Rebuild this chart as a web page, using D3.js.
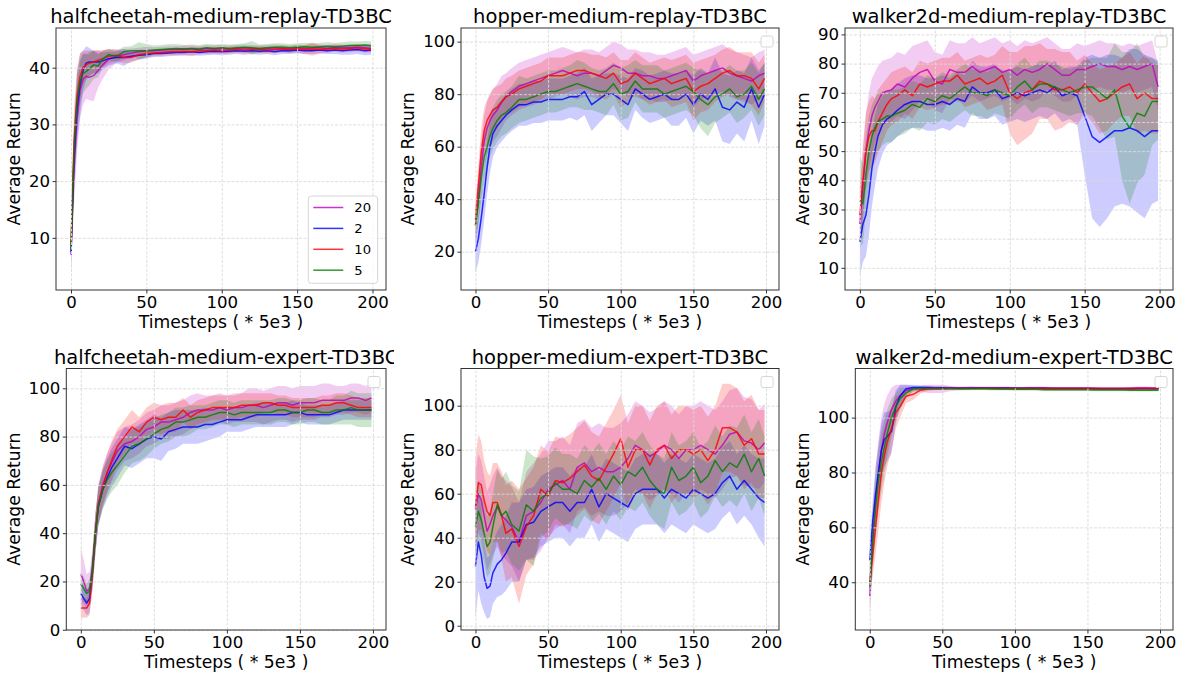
<!DOCTYPE html>
<html>
<head>
<meta charset="utf-8">
<script src="https://cdn.jsdelivr.net/npm/d3@7"></script>
<style>
  body { margin: 0; background: #fff; }
  svg { display: block; font-family: "DejaVu Sans", sans-serif; }
</style>
</head>
<body>
<div id="area"></div>
<script>
// x positions (timesteps, * 5e3) shared by every series
var steps = [0, 2, 4, 6, 8, 10, 12, 15, 18, 21,
  25, 30, 35, 40, 45, 50, 55, 60, 65, 70,
  75, 80, 85, 90, 95, 100, 105, 110, 115, 120,
  125, 130, 135, 140, 145, 150, 155, 160, 165, 170,
  175, 180, 185, 190, 195, 199];

var seriesNames = ['20', '2', '10', '5'];
var seriesColors = ['#bf00bf', '#0000ff', '#ff0000', '#008000'];
var xTicks = [0, 50, 100, 150, 200];

// halfcheetah-medium-replay
var hcr20 = [7, 22, 31, 36, 38, 38.5, 38.3, 38.6, 39.5, 40.5,
  41.5, 42, 42.3, 42.6, 42.8, 43, 43, 43.1, 43.2, 43.2,
  43.3, 43.3, 43.2, 43.4, 43.3, 43.4, 43.3, 43.4, 43.5, 43.4,
  43.3, 43.4, 43.5, 43.4, 43.3, 43.5, 43.4, 43.5, 43.5, 43.4,
  43.6, 43.5, 43.5, 43.6, 43.5, 43.4];
var hcr20Std = [3, 6, 6, 5, 4.5, 4, 4, 4.5, 3, 2.5,
  1.8, 1.2, 1, 0.8, 0.7, 0.7, 0.6, 0.6, 0.6, 0.6,
  0.6, 0.6, 0.6, 0.6, 0.6, 0.6, 0.6, 0.6, 0.6, 0.6,
  0.6, 0.6, 0.6, 0.6, 0.6, 0.6, 0.6, 0.6, 0.6, 0.6,
  0.6, 0.6, 0.6, 0.6, 0.6, 0.6];
var hcr2 = [7.5, 24, 33, 37, 39.5, 40.8, 41, 41, 41, 41.2,
  41.6, 41.8, 41.8, 42, 42.2, 42.3, 42.5, 42.5, 42.6, 42.7,
  42.7, 42.8, 42.7, 42.8, 42.9, 42.8, 42.9, 43, 42.9, 43,
  42.9, 43, 42.8, 43, 43, 43.1, 43, 43, 43.1, 43,
  43.1, 43, 43.1, 43.2, 43, 43.1];
var hcr2Std = [3, 6, 6, 5.5, 3.5, 3, 2.5, 2, 2, 1.5,
  1.2, 1, 1.5, 0.9, 0.8, 0.7, 0.6, 0.6, 0.6, 0.6,
  0.6, 0.6, 0.6, 0.6, 0.6, 0.6, 0.6, 0.6, 0.6, 0.6,
  0.6, 0.6, 0.6, 0.6, 0.6, 0.6, 0.6, 0.6, 0.6, 0.6,
  0.7, 0.7, 0.8, 0.8, 0.8, 0.8];
var hcr10 = [9, 27, 35, 38.5, 40, 40.5, 40.8, 41, 41.3, 41.6,
  42, 42.2, 41.8, 41.8, 42.3, 42.5, 42.6, 42.7, 42.8, 42.8,
  42.9, 42.8, 43, 43, 43.1, 43, 43.1, 43.2, 43.1, 43.2,
  43.2, 43.1, 43.2, 43.3, 43.2, 43.3, 43.2, 43.3, 43.2, 43.3,
  43.4, 43.3, 43.4, 43.5, 43.3, 43.3];
var hcr10Std = [3, 6, 5, 4, 3, 2.5, 2.2, 2, 1.8, 1.5,
  1.2, 1, 1, 0.9, 0.8, 0.7, 0.6, 0.6, 0.6, 0.6,
  0.6, 0.8, 0.6, 0.6, 0.6, 0.6, 0.6, 0.6, 0.6, 0.6,
  0.6, 0.6, 0.6, 0.6, 0.6, 0.6, 0.8, 1.2, 0.7, 0.6,
  0.6, 0.6, 0.6, 0.6, 0.6, 0.6];
var hcr5 = [8, 25, 34, 37.5, 39, 39.3, 39.8, 40.5, 40.3, 41.5,
  42.3, 42, 42.8, 43, 43, 43, 43.1, 43.2, 43.3, 43.4,
  43.3, 43.4, 43.3, 43.5, 43.4, 43.5, 43.4, 43.5, 43.6, 43.5,
  43.4, 43.5, 43.6, 43.6, 43.5, 43.6, 43.7, 43.6, 43.7, 43.8,
  43.7, 43.8, 43.9, 43.9, 44, 43.9];
var hcr5Std = [3, 5, 5, 4, 3.5, 3, 3, 2.5, 2, 1.5,
  1, 1, 0.9, 0.8, 1.5, 1.2, 0.8, 0.8, 0.9, 0.8,
  0.7, 0.7, 0.7, 0.7, 0.7, 0.7, 0.7, 0.7, 0.7, 1.2,
  0.7, 0.7, 0.7, 0.7, 0.7, 0.7, 0.7, 0.7, 0.7, 0.7,
  0.7, 0.7, 0.7, 0.7, 0.7, 0.7];

// hopper-medium-replay
var hmr20 = [30, 40, 52, 62, 67, 70, 72, 74, 77, 79,
  81, 83, 84, 85, 86, 87, 88, 89, 88, 87,
  88, 88, 87, 89, 91, 90, 88, 88, 87, 87,
  86, 86, 87, 88, 89, 85, 87, 88, 89, 90,
  88, 87, 86, 85, 87, 88];
var hmr20Std = [8, 9, 10, 10, 10, 10, 10, 10, 10, 9,
  9, 9, 9, 9, 9, 9, 9, 9, 9, 9,
  9, 9, 9, 9, 9, 9, 9, 9, 9, 9,
  9, 9, 9, 9, 9, 10, 9, 9, 9, 9,
  9, 9, 9, 9, 9, 9];
var hmr2 = [20, 25, 33, 42, 52, 60, 65, 68, 70, 72,
  74, 76, 76, 77, 77, 78, 78, 78, 79, 79,
  81, 76, 78, 80, 80, 78, 76, 82, 80, 78,
  79, 80, 78, 78, 80, 76, 80, 78, 82, 75,
  74, 77, 75, 82, 75, 80];
var hmr2Std = [8, 9, 10, 10, 10, 10, 9, 8, 8, 8,
  8, 8, 8, 8, 8, 8, 8, 8, 8, 9,
  9, 10, 9, 8, 8, 9, 10, 8, 9, 9,
  9, 9, 10, 10, 9, 11, 10, 10, 12, 13,
  13, 12, 13, 12, 14, 12];
var hmr10 = [32, 45, 58, 66, 70, 72, 74, 75, 77, 79,
  80, 82, 83, 84, 85, 87, 87, 87, 88, 89,
  89, 88, 87, 86, 88, 84, 85, 88, 86, 84,
  85, 86, 84, 85, 86, 81, 83, 84, 86, 88,
  89, 87, 87, 86, 82, 86];
var hmr10Std = [6, 8, 9, 9, 8, 8, 8, 8, 7, 7,
  7, 7, 7, 7, 7, 7, 7, 7, 7, 7,
  7, 7, 8, 8, 8, 9, 8, 8, 8, 8,
  8, 8, 9, 9, 9, 11, 10, 10, 9, 9,
  9, 9, 9, 10, 10, 9];
var hmr5 = [30, 38, 48, 56, 60, 64, 67, 70, 72, 73,
  75, 78, 78, 79, 80, 81, 81, 82, 83, 84,
  83, 82, 81, 81, 84, 80, 81, 85, 82, 82,
  82, 80, 81, 82, 83, 81, 78, 76, 79, 80,
  82, 79, 80, 83, 78, 82];
var hmr5Std = [7, 8, 9, 9, 9, 8, 8, 8, 8, 8,
  8, 9, 8, 8, 8, 8, 8, 8, 8, 9,
  9, 8, 8, 9, 8, 10, 10, 8, 9, 9,
  9, 9, 9, 9, 9, 9, 11, 12, 10, 9,
  9, 10, 9, 9, 10, 10];

// walker2d-medium-replay
var wmr20 = [25, 38, 50, 57, 62, 65, 67, 70, 70.5, 71,
  73, 72, 75, 77, 78, 74, 73, 78, 77, 77,
  79, 77, 78, 79, 77, 78, 76, 78, 77, 78,
  80, 78, 76, 76, 78, 78, 79, 80, 79, 79,
  78, 79, 78, 79, 80, 72];
var wmr20Std = [10, 12, 13, 13, 13, 12, 12, 11, 11, 11,
  11, 11, 11, 10, 10, 10, 10, 10, 10, 10,
  10, 10, 10, 10, 10, 10, 10, 10, 10, 10,
  9, 9, 9, 9, 9, 8, 8, 8, 8, 8,
  8, 8, 8, 8, 8, 8];
var wmr2 = [19, 25, 28, 35, 44, 50, 55, 59, 61, 62,
  64, 66, 67, 67, 66, 66, 67, 66, 68, 67,
  72, 70, 70, 71, 68, 69, 70, 69, 70, 71,
  70, 72, 69, 70, 69, 62, 55, 53, 55, 57,
  57, 58, 57, 55, 57, 57];
var wmr2Std = [12, 13, 14, 14, 13, 12, 11, 10, 9, 9,
  9, 9, 9, 9, 9, 9, 9, 9, 9, 9,
  9, 9, 9, 9, 9, 9, 9, 9, 9, 9,
  9, 9, 9, 9, 10, 20, 28, 29, 28, 26,
  25, 27, 28, 28, 25, 24];
var wmr10 = [28, 40, 50, 55, 57, 57, 60, 63, 66, 68,
  69, 71, 69, 73, 72, 73, 74, 74, 76, 73,
  74, 75, 73, 74, 76, 70, 68, 70, 71, 74,
  73, 71, 71, 72, 70, 73, 70, 67, 68, 70,
  72, 73, 68, 70, 68, 68];
var wmr10Std = [10, 12, 13, 12, 12, 11, 11, 10, 9, 9,
  9, 8, 8, 8, 8, 8, 8, 8, 8, 8,
  8, 8, 9, 9, 10, 14, 16, 16, 15, 13,
  12, 14, 13, 12, 11, 10, 10, 11, 11, 10,
  10, 11, 12, 13, 12, 12];
var wmr5 = [33, 32, 42, 50, 55, 58, 60, 61, 62, 62,
  63, 64, 66, 65, 68, 67, 69, 68, 70, 72,
  70, 70, 69, 71, 70, 69, 72, 74, 71, 73,
  73, 72, 71, 70, 71, 72, 72, 70, 68, 71,
  62, 58, 63, 62, 67, 67];
var wmr5Std = [15, 14, 13, 12, 11, 10, 10, 9, 9, 9,
  8, 8, 8, 8, 8, 8, 8, 8, 8, 8,
  8, 8, 8, 8, 8, 8, 8, 8, 8, 8,
  8, 8, 8, 8, 8, 9, 10, 12, 14, 16,
  22, 26, 24, 20, 15, 13];

// halfcheetah-medium-expert
var hce20 = [23, 20, 16, 17, 26, 40, 52, 60, 65, 69,
  74, 77, 78, 80, 83, 84, 86, 86, 87, 88,
  90, 91, 91, 91, 92, 91, 92, 92, 93, 93,
  92, 93, 94, 94, 93, 94, 94, 94, 95, 95,
  95, 95, 96, 96, 95, 96];
var hce20Std = [11, 9, 7, 7, 8, 8, 8, 8, 8, 8,
  8, 7, 7, 7, 7, 7, 7, 7, 7, 7,
  7, 7, 6, 6, 6, 6, 6, 6, 7, 7,
  7, 7, 7, 7, 7, 7, 7, 7, 7, 7,
  6, 6, 6, 6, 6, 6];
var hce2 = [15, 13, 11, 13, 24, 40, 51, 58, 63, 67,
  71, 76, 75, 77, 79, 80, 79, 82, 83, 84,
  84, 84, 85, 85, 86, 87, 87, 87, 88, 89,
  89, 89, 89, 89, 90, 90, 89, 89, 89, 89,
  90, 91, 91, 91, 91, 91];
var hce2Std = [5, 5, 5, 6, 7, 8, 8, 8, 8, 8,
  8, 8, 8, 8, 8, 9, 9, 8, 8, 7,
  7, 7, 7, 6, 6, 5, 5, 5, 5, 5,
  5, 5, 5, 5, 5, 4, 4, 4, 4, 4,
  4, 4, 4, 4, 4, 4];
var hce10 = [9, 9, 9, 11, 24, 40, 52, 59, 65, 70,
  76, 80, 84, 82, 86, 88, 87, 88, 88, 91,
  88, 90, 91, 92, 92, 92, 92, 93, 93, 93,
  94, 94, 93, 93, 92, 92, 92, 92, 93, 93,
  94, 94, 93, 92, 92, 92];
var hce10Std = [4, 4, 4, 5, 7, 8, 8, 8, 8, 8,
  7, 7, 7, 6, 6, 6, 6, 6, 6, 5,
  5, 5, 5, 5, 5, 5, 5, 5, 5, 5,
  4, 4, 4, 4, 4, 4, 4, 4, 4, 4,
  4, 4, 4, 4, 4, 4];
var hce5 = [19, 17, 15, 16, 25, 40, 51, 58, 62, 65,
  68, 72, 76, 77, 79, 81, 83, 84, 86, 86,
  87, 88, 88, 89, 90, 90, 89, 90, 90, 90,
  90, 90, 91, 91, 90, 90, 91, 91, 90, 90,
  91, 91, 92, 91, 91, 91];
var hce5Std = [5, 5, 4, 5, 7, 8, 8, 8, 8, 8,
  8, 7, 7, 7, 7, 6, 6, 6, 6, 6,
  6, 5, 5, 5, 5, 5, 5, 5, 5, 5,
  5, 5, 5, 5, 5, 5, 5, 5, 5, 5,
  6, 6, 7, 7, 7, 7];

// hopper-medium-expert
var hme20 = [53, 60, 57, 50, 43, 46, 50, 54, 50, 48,
  45, 38, 50, 52, 56, 62, 64, 66, 62, 72,
  74, 70, 72, 70, 70, 72, 76, 82, 80, 77,
  79, 82, 80, 76, 80, 80, 82, 80, 78, 82,
  87, 88, 84, 83, 80, 83];
var hme20Std = [18, 18, 18, 18, 18, 18, 18, 18, 18, 18,
  18, 18, 20, 22, 22, 22, 20, 20, 20, 20,
  20, 20, 20, 20, 20, 20, 20, 20, 20, 20,
  20, 20, 20, 20, 20, 20, 20, 20, 20, 20,
  20, 20, 20, 20, 18, 18];
var hme2 = [27, 38, 32, 22, 17, 18, 24, 28, 30, 33,
  38, 38, 46, 47, 52, 54, 56, 56, 52, 56,
  56, 62, 54, 60, 58, 56, 54, 60, 62, 62,
  62, 58, 62, 60, 58, 62, 60, 58, 60, 65,
  68, 62, 66, 62, 58, 56];
var hme2Std = [24, 22, 22, 16, 14, 14, 14, 15, 16, 17,
  18, 18, 16, 16, 16, 16, 16, 16, 16, 16,
  16, 16, 16, 16, 16, 16, 16, 16, 16, 16,
  16, 16, 16, 16, 16, 16, 16, 16, 16, 16,
  16, 16, 16, 16, 18, 20];
var hme10 = [54, 65, 64, 57, 52, 50, 56, 56, 50, 42,
  44, 36, 45, 50, 62, 59, 66, 65, 67, 70,
  73, 68, 66, 72, 78, 85, 72, 80, 80, 73,
  80, 82, 76, 80, 80, 78, 80, 75, 80, 90,
  90, 88, 82, 85, 78, 78];
var hme10Std = [22, 22, 20, 18, 18, 18, 18, 18, 20, 22,
  22, 26, 22, 22, 20, 20, 20, 20, 20, 20,
  20, 20, 20, 20, 20, 20, 20, 20, 20, 20,
  20, 20, 20, 20, 20, 20, 20, 20, 20, 20,
  20, 20, 20, 20, 20, 20];
var hme5 = [45, 52, 48, 42, 36, 38, 45, 55, 50, 52,
  46, 43, 55, 52, 58, 60, 65, 62, 62, 60,
  66, 63, 67, 62, 68, 64, 70, 68, 72, 66,
  62, 60, 72, 66, 68, 72, 65, 68, 75, 70,
  74, 72, 78, 70, 76, 68];
var hme5Std = [14, 14, 14, 14, 14, 14, 15, 16, 17, 18,
  18, 18, 25, 25, 18, 17, 16, 16, 16, 16,
  16, 16, 16, 16, 16, 16, 16, 16, 16, 16,
  16, 16, 16, 16, 16, 16, 16, 16, 16, 16,
  17, 18, 18, 18, 18, 18];

// walker2d-medium-expert
var wme20 = [35, 55, 70, 80, 88, 94, 98, 103, 106, 108,
  110, 110.5, 110.5, 110.5, 110.5, 110.5, 110.6, 110.6, 110.6, 110.7,
  110.7, 110.7, 110.7, 110.7, 110.7, 110.7, 110.7, 110.8, 110.8, 110.8,
  110.7, 110.7, 110.7, 110.7, 110.7, 110.7, 110.7, 110.6, 110.6, 110.6,
  110.6, 110.7, 110.8, 110.8, 110.7, 110.7];
var wme20Std = [8, 10, 12, 12, 12, 11, 10, 8, 6, 4,
  2, 1, 1, 1.5, 1.5, 1.5, 1, 0.6, 0.6, 0.6,
  0.5, 0.5, 0.5, 0.5, 0.5, 0.5, 0.5, 0.5, 0.5, 0.5,
  0.5, 0.5, 0.5, 0.5, 0.5, 0.5, 0.5, 0.5, 0.5, 0.5,
  0.5, 0.5, 0.5, 0.5, 0.5, 0.5];
var wme2 = [48, 62, 72, 80, 88, 92, 93, 95, 104, 108,
  110.5, 111, 111, 111, 110.9, 110.9, 110.8, 110.8, 110.8, 110.8,
  110.8, 110.8, 110.8, 110.8, 110.8, 110.7, 110.7, 110.7, 110.7, 110.7,
  110.6, 110.6, 110.6, 110.6, 110.6, 110.6, 110.5, 110.5, 110.5, 110.5,
  110.5, 110.5, 110.5, 110.5, 110.5, 110.5];
var wme2Std = [6, 8, 10, 10, 10, 10, 9, 8, 6, 4,
  1.5, 1, 0.8, 0.6, 0.6, 0.6, 0.5, 0.5, 0.5, 0.5,
  0.5, 0.5, 0.5, 0.5, 0.5, 0.5, 0.5, 0.5, 0.5, 0.5,
  0.5, 0.5, 0.5, 0.5, 0.5, 0.5, 0.5, 0.5, 0.5, 0.5,
  0.5, 0.5, 0.5, 0.5, 0.5, 0.5];
var wme10 = [40, 50, 60, 70, 80, 86, 91, 96, 102, 104,
  107.8, 108.5, 110, 110.5, 110.6, 110.6, 110.7, 110.7, 110.7, 110.7,
  110.7, 110.7, 110.7, 110.6, 110.6, 110.6, 110.6, 110.6, 110.6, 110.6,
  110.6, 110.6, 110.6, 110.6, 110.6, 110.6, 110.6, 110.6, 110.6, 110.6,
  110.6, 110.6, 110.7, 110.7, 110.7, 110.7];
var wme10Std = [6, 8, 10, 11, 11, 10, 9, 8, 6, 4,
  2.5, 2, 1.2, 0.8, 0.6, 0.5, 0.5, 0.5, 0.5, 0.5,
  0.5, 0.5, 0.5, 0.5, 0.5, 0.5, 0.5, 0.5, 0.5, 0.5,
  0.5, 0.5, 0.5, 0.5, 0.5, 0.5, 0.5, 0.5, 0.5, 0.5,
  0.5, 0.5, 0.5, 0.5, 0.5, 0.5];
var wme5 = [38, 55, 67, 77, 84, 89, 94, 100, 104, 107,
  109, 110.5, 110.6, 110.6, 110.6, 110.6, 110.6, 110.5, 110.5, 110.5,
  110.5, 110.5, 110.4, 110.4, 110.4, 110.3, 110.3, 110.3, 110.3, 110.2,
  110.2, 110.2, 110.2, 110.2, 110.2, 110.2, 110.1, 110.1, 110.1, 110.1,
  110.1, 110, 110, 110, 110, 110];
var wme5Std = [8, 10, 11, 11, 11, 10, 9, 7, 5, 4,
  2, 1, 0.8, 0.6, 0.5, 0.5, 0.5, 0.5, 0.5, 0.5,
  0.5, 0.5, 0.5, 0.5, 0.5, 0.5, 0.5, 0.5, 0.5, 0.5,
  0.5, 0.5, 0.5, 0.5, 0.5, 0.5, 0.5, 0.5, 0.5, 0.5,
  0.5, 0.5, 0.5, 0.5, 0.5, 0.5];

var panels = [
  {title: 'halfcheetah-medium-replay-TD3BC', box: [56, 28, 386, 290], yDomain: [0.8, 47], yTicks: [10, 20, 30, 40],
   means: [hcr20, hcr2, hcr10, hcr5], stds: [hcr20Std, hcr2Std, hcr10Std, hcr5Std], legend: true},
  {title: 'hopper-medium-replay-TD3BC', box: [461, 28, 779, 290], yDomain: [5.4, 105.2], yTicks: [20, 40, 60, 80, 100],
   means: [hmr20, hmr2, hmr10, hmr5], stds: [hmr20Std, hmr2Std, hmr10Std, hmr5Std]},
  {title: 'walker2d-medium-replay-TD3BC', box: [845, 28, 1173, 290], yDomain: [2.4, 92.2], yTicks: [10, 20, 30, 40, 50, 60, 70, 80, 90],
   means: [wmr20, wmr2, wmr10, wmr5], stds: [wmr20Std, wmr2Std, wmr10Std, wmr5Std]},
  {title: 'halfcheetah-medium-expert-TD3BC', box: [66.3, 368.5, 386, 630], yDomain: [-0.1, 108.2], yTicks: [0, 20, 40, 60, 80, 100],
   means: [hce20, hce2, hce10, hce5], stds: [hce20Std, hce2Std, hce10Std, hce5Std], clipTitle: 394},
  {title: 'hopper-medium-expert-TD3BC', box: [461, 368.5, 779, 630], yDomain: [-1.95, 116.9], yTicks: [0, 20, 40, 60, 80, 100],
   means: [hme20, hme2, hme10, hme5], stds: [hme20Std, hme2Std, hme10Std, hme5Std]},
  {title: 'walker2d-medium-expert-TD3BC', box: [855.3, 368.5, 1173, 630], yDomain: [22.6, 117.9], yTicks: [40, 60, 80, 100],
   means: [wme20, wme2, wme10, wme5], stds: [wme20Std, wme2Std, wme10Std, wme5Std]}
];

var width = 1183, height = 679;
var tickFont = 16.6, labelFont = 17.2, titleFont = 19.5;

var svg = d3.select('#area').append('svg')
    .attr('width', width)
    .attr('height', height);

panels.forEach(function(p, k) { drawPanel(p, k); });

function drawPanel(p, k) {
  var left = p.box[0], top = p.box[1], right = p.box[2], bottom = p.box[3];
  var x = d3.scaleLinear().domain([-9.95, 208.95]).range([left, right]);
  var y = d3.scaleLinear().domain(p.yDomain).range([bottom, top]);

  var defs = svg.append('defs');
  defs.append('clipPath').attr('id', 'plot' + k)
    .append('rect').attr('x', left).attr('y', top)
    .attr('width', right - left).attr('height', bottom - top);

  var g = svg.append('g');
  var plot = g.append('g').attr('clip-path', 'url(#plot' + k + ')');

  // shaded bands
  p.means.forEach(function(m, i) {
    var s = p.stds[i];
    var band = d3.area()
      .x(function(d, j) { return x(steps[j]); })
      .y0(function(d, j) { return y(m[j] - s[j]); })
      .y1(function(d, j) { return y(m[j] + s[j]); });
    plot.append('path').datum(m)
      .attr('d', band)
      .attr('fill', seriesColors[i])
      .attr('fill-opacity', 0.2)
      .attr('stroke', 'none');
  });

  // dashed grid
  var gx = g.append('g').attr('transform', 'translate(0,' + bottom + ')')
    .call(d3.axisBottom(x).tickValues(xTicks).tickSize(-(bottom - top)).tickFormat(''));
  var gy = g.append('g').attr('transform', 'translate(' + left + ',0)')
    .call(d3.axisLeft(y).tickValues(p.yTicks).tickSize(-(right - left)).tickFormat(''));
  [gx, gy].forEach(function(a) {
    a.select('.domain').remove();
    a.selectAll('line').attr('stroke', '#dadada').attr('stroke-width', 0.9)
      .attr('stroke-dasharray', '3,1.5');
  });

  // mean lines
  p.means.forEach(function(m, i) {
    var line = d3.line()
      .x(function(d, j) { return x(steps[j]); })
      .y(function(d) { return y(d); });
    plot.append('path').datum(m)
      .attr('d', line)
      .attr('fill', 'none')
      .attr('stroke', seriesColors[i])
      .attr('stroke-opacity', 0.82)
      .attr('stroke-width', 1.5)
      .attr('stroke-linejoin', 'round');
  });

  // frame
  g.append('rect').attr('x', left).attr('y', top)
    .attr('width', right - left).attr('height', bottom - top)
    .attr('fill', 'none').attr('stroke', '#333').attr('stroke-width', 1);

  // axes
  var ax = g.append('g').attr('transform', 'translate(0,' + bottom + ')')
    .call(d3.axisBottom(x).tickValues(xTicks).tickSize(3.5).tickPadding(3));
  var ay = g.append('g').attr('transform', 'translate(' + left + ',0)')
    .call(d3.axisLeft(y).tickValues(p.yTicks).tickSize(3.5).tickPadding(2.5));
  [ax, ay].forEach(function(a) {
    a.select('.domain').remove();
    a.selectAll('line').attr('stroke', '#333');
    a.selectAll('text').attr('font-size', tickFont)
      .attr('font-family', '"DejaVu Sans", sans-serif').attr('fill', '#000');
  });

  var maxW = 0;
  ay.selectAll('text').each(function() {
    maxW = Math.max(maxW, this.getComputedTextLength());
  });

  g.append('text')
    .attr('transform', 'translate(' + (left - 6 - maxW - 9) + ',' + ((top + bottom) / 2) + ') rotate(-90)')
    .attr('text-anchor', 'middle')
    .attr('font-size', labelFont)
    .text('Average Return');

  g.append('text')
    .attr('x', (left + right) / 2)
    .attr('y', bottom + 38)
    .attr('text-anchor', 'middle')
    .attr('font-size', labelFont)
    .text('Timesteps ( * 5e3 )');

  var title = g.append('text')
    .attr('x', (left + right) / 2)
    .attr('y', top - 5)
    .attr('text-anchor', 'middle')
    .attr('font-size', titleFont)
    .text(p.title);
  if (p.clipTitle) {
    defs.append('clipPath').attr('id', 'title' + k)
      .append('rect').attr('x', 0).attr('y', top - 40)
      .attr('width', p.clipTitle).attr('height', 40);
    title.attr('clip-path', 'url(#title' + k + ')');
  }

  // legend (only the first panel has entries; the others show an empty box)
  if (p.legend) {
    var lx = right - 77.7, ly = bottom - 94;
    g.append('rect').attr('x', lx).attr('y', ly)
      .attr('width', 69.4).attr('height', 87.3).attr('rx', 3)
      .attr('fill', '#fff').attr('fill-opacity', 0.8)
      .attr('stroke', '#d6d6d6');
    seriesNames.forEach(function(name, i) {
      var yy = ly + 11.5 + i * 20.9;
      g.append('line').attr('x1', lx + 5).attr('x2', lx + 35)
        .attr('y1', yy).attr('y2', yy)
        .attr('stroke', seriesColors[i]).attr('stroke-opacity', 0.8).attr('stroke-width', 1.5);
      g.append('text').attr('x', lx + 46).attr('y', yy).attr('dy', '0.36em')
        .attr('font-size', 13.1).text(name);
    });
  } else {
    g.append('rect').attr('x', right - 18).attr('y', top + 8)
      .attr('width', 12).attr('height', 11).attr('rx', 2)
      .attr('fill', '#fff').attr('fill-opacity', 0.8)
      .attr('stroke', '#d6d6d6');
  }
}
</script>
</body>
</html>
